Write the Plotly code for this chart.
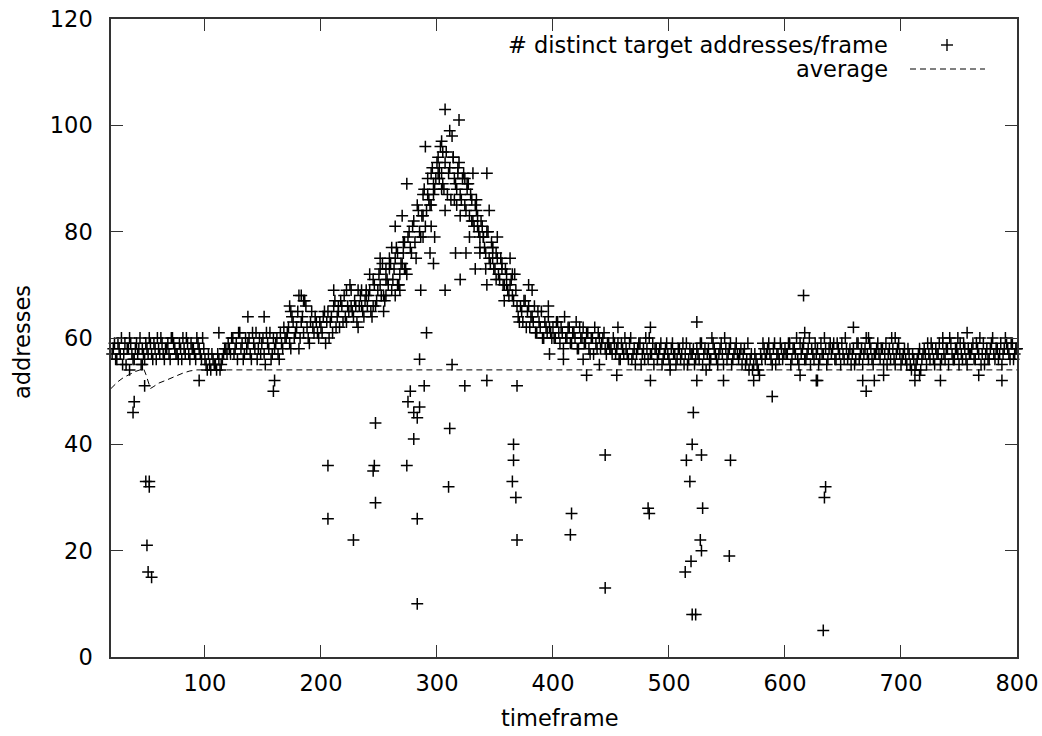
import plotly.graph_objects as go

# ---- main band: readings on even frames (x = 20, 22, ..., 800) ----
band_frame = list(range(20, 801, 2))
band_count = [
    # 20-48
    57, 59, 56, 58, 60, 57, 55, 58, 59, 56, 58, 57, 60, 58, 56,
    # 50-98
    58, 60, 57, 59, 56, 58, 60, 57, 58, 59, 56, 60, 58, 57, 59, 56, 58, 60, 57, 59, 58, 56, 59, 57, 60,
    # 100-118
    56, 54, 55, 57, 55, 54, 56, 55, 57, 58,
    # 120-168
    59, 57, 60, 58, 56, 61, 59, 57, 58, 60, 56, 59, 61, 58, 57, 60, 55, 59, 61, 57, 58, 60, 56, 59, 62,
    # 170-198
    60, 62, 58, 63, 61, 65, 60, 64, 67, 62, 59, 65, 61, 63, 60,
    # 200-238
    62, 64, 59, 65, 63, 61, 67, 64, 62, 66, 68, 63, 65, 69, 64, 66, 62, 68, 65, 67,
    # 240-268
    66, 69, 64, 70, 67, 72, 68, 65, 73, 70, 74, 71, 68, 76, 72,
    # 270-298
    74, 78, 72, 80, 76, 82, 75, 84, 79, 87, 81, 90, 85, 92, 88,
    # 300-338
    93, 90, 97, 88, 95, 91, 86, 94, 89, 92, 87, 90, 85, 88, 83, 86, 81, 84, 80, 82,
    # 340-368
    79, 76, 80, 74, 77, 73, 75, 71, 74, 70, 72, 68, 71, 67, 69,
    # 370-398
    64, 66, 63, 67, 65, 62, 64, 66, 61, 63, 65, 60, 62, 64, 61,
    # 400-448
    62, 60, 63, 59, 61, 64, 60, 62, 59, 61, 63, 58, 60, 62, 59, 61, 57, 60, 62, 58, 60, 59, 61, 57, 59,
    # 450-518
    58, 60, 57, 59, 56, 58, 60, 57, 59, 56, 58, 57, 59, 55, 58, 60, 56, 57, 59, 58, 56, 58, 55, 57, 59,
    56, 58, 57, 55, 58, 56, 59, 57, 55, 58,
    # 520-558
    57, 55, 58, 56, 59, 57, 54, 58, 56, 59, 57, 55, 58, 57, 60, 56, 58, 55, 57, 59,
    # 560-598
    56, 58, 57, 55, 59, 56, 54, 57, 55, 53, 56, 58, 57, 59, 56, 58, 55, 57, 59, 56,
    # 600-638
    58, 57, 59, 56, 58, 60, 55, 57, 59, 56, 58, 55, 57, 59, 58, 56, 57, 60, 55, 58,
    # 640-678
    57, 59, 56, 58, 55, 57, 60, 56, 58, 57, 55, 59, 56, 58, 57, 60, 56, 58, 55, 57,
    # 680-718
    59, 56, 58, 57, 55, 58, 60, 56, 57, 59, 55, 57, 56, 58, 55, 57, 54, 56, 58, 56,
    # 720-758
    58, 55, 57, 59, 56, 58, 57, 55, 59, 56, 58, 60, 57, 56, 58, 55, 57, 59, 56, 58,
    # 760-800
    57, 59, 56, 58, 60, 57, 55, 58, 56, 59, 57, 58, 56, 59, 57, 60, 58, 56, 59, 57, 58,
]

# ---- main band: readings on odd frames (x = 21, 23, ..., 799) ----
odd_frame = list(range(21, 800, 2))
odd_count = [
    # 21-49
    58, 56, 59, 57, 55, 59, 58, 60, 57, 56, 59, 58, 55, 57, 59,
    # 51-99
    57, 59, 56, 58, 60, 57, 59, 56, 58, 57, 60, 59, 57, 56, 58, 60, 57, 59, 56, 58, 57, 60, 58, 56, 58,
    # 101-119
    55, 57, 54, 56, 55, 57, 54, 56, 58, 57,
    # 121-169
    58, 60, 57, 59, 61, 58, 56, 60, 59, 57, 61, 58, 56, 60, 59, 57, 61, 58, 56, 60, 59, 57, 61, 58, 60,
    # 171-199
    61, 59, 64, 60, 62, 58, 63, 61, 66, 60, 63, 62, 64, 61, 63,
    # 201-239
    61, 65, 63, 60, 64, 66, 62, 65, 67, 63, 64, 66, 70, 65, 67, 63, 66, 69, 64, 68,
    # 241-269
    68, 65, 71, 66, 69, 70, 74, 67, 71, 75, 69, 73, 77, 70, 74,
    # 271-299
    76, 73, 79, 77, 81, 78, 85, 80, 83, 88, 84, 86, 91, 87, 90,
    # 301-339
    91, 96, 89, 93, 87, 92, 98, 90, 88, 93, 86, 91, 84, 89, 87, 82, 85, 83, 79, 81,
    # 341-369
    77, 80, 75, 78, 73, 76, 72, 75, 70, 73, 69, 70, 68, 72, 66,
    # 371-399
    63, 65, 67, 62, 66, 64, 63, 61, 65, 62, 60, 63, 61, 62, 60,
    # 401-449
    60, 63, 61, 62, 58, 60, 62, 59, 61, 60, 58, 62, 60, 59, 61, 58, 60, 57, 59, 61, 58, 60, 58, 59, 58,
    # 451-519
    57, 59, 58, 56, 59, 57, 58, 56, 60, 57, 55, 58, 59, 57, 56, 58, 60, 57, 55, 58, 57, 59, 56, 58, 57,
    55, 59, 57, 56, 58, 57, 55, 59, 56, 57,
    # 521-559
    58, 56, 57, 59, 55, 58, 57, 56, 60, 58, 56, 57, 59, 55, 58, 57, 59, 56, 58, 57,
    # 561-599
    57, 55, 58, 56, 54, 57, 55, 56, 54, 57, 59, 56, 58, 57, 55, 59, 57, 56, 58, 57,
    # 601-639
    57, 59, 55, 58, 57, 56, 59, 58, 56, 57, 60, 58, 56, 57, 55, 59, 57, 58, 56, 59,
    # 641-679
    58, 56, 59, 57, 59, 56, 58, 57, 55, 58, 56, 59, 57, 55, 58, 57, 59, 56, 57, 58,
    # 681-719
    57, 58, 55, 59, 57, 56, 58, 55, 58, 57, 56, 58, 55, 57, 54, 56, 55, 57, 54, 57,
    # 721-759
    57, 59, 56, 58, 55, 57, 59, 56, 57, 58, 55, 59, 56, 58, 57, 59, 56, 58, 55, 57,
    # 761-799
    58, 56, 59, 57, 55, 59, 57, 56, 58, 60, 56, 58, 57, 55, 58, 59, 57, 59, 56, 58,
]

# ---- extra readings around the peak (spread of values) ----
peak_frame = [307, 319, 311, 290, 305, 314, 301, 302, 304, 318, 324, 326, 331, 343, 274, 297,
              304, 292, 315, 334, 295, 307, 317, 345, 270, 288, 320, 264, 295, 330, 335, 288,
              298, 328, 340, 352, 271, 261, 337, 348, 294, 316, 325, 337, 251, 264, 348, 363,
              297, 251, 259, 272, 333, 342, 356, 242, 256, 365, 320, 351, 267, 211, 222, 232,
              239, 256, 268, 286, 307, 343, 360, 379, 181, 185, 382, 396, 358, 173, 226, 235,
              245, 291, 137, 151, 112, 174, 183, 215, 254, 266]
peak_count = [103, 101, 99, 96, 95, 94, 94, 92, 91, 91, 90, 89, 91, 91, 89, 89,
              88, 87, 86, 86, 85, 84, 85, 84, 83, 83, 83, 81, 81, 82, 81, 79,
              79, 79, 79, 79, 78, 77, 77, 77, 76, 76, 76, 76, 75, 75, 75, 75,
              74, 73, 73, 73, 73, 73, 73, 72, 71, 72, 71, 71, 70, 69, 69, 69,
              69, 68, 69, 69, 69, 70, 70, 70, 68, 67, 69, 66, 67, 66, 66, 66,
              66, 61, 64, 64, 61, 65, 68, 66, 68, 70]

# ---- isolated readings away from the band ----
outlier_frame = [48, 39, 38, 49, 52, 52, 50, 51, 54, 95, 160, 159, 247, 206, 246, 245,
                 274, 277, 275, 280, 285, 283, 280, 283, 283, 247, 206, 228, 311, 310, 324, 343,
                 369, 366, 366, 365, 368, 369, 445, 416, 415, 445, 482, 483, 484, 524,
                 521, 520, 515, 528, 553, 518, 529, 527, 528, 519, 514, 552, 520, 523,
                 547, 573, 589, 628, 635, 634, 633, 616, 617, 659, 672, 695, 757, 736,
                 749, 613, 627, 667, 670, 677, 685, 712, 734, 767, 787, 716, 456, 484,
                 524, 429, 455, 397, 409, 426, 440, 501, 535, 313, 285, 289, 35, 46]
outlier_count = [51, 48, 46, 33, 33, 32, 21, 16, 15, 52, 52, 50, 44, 36, 36, 35,
                 36, 50, 48, 46, 47, 45, 41, 26, 10, 29, 26, 22, 43, 32, 51, 52,
                 51, 40, 37, 33, 30, 22, 38, 27, 23, 13, 28, 27, 52, 52,
                 46, 40, 37, 38, 37, 33, 28, 22, 20, 18, 16, 19, 8, 8,
                 52, 52, 49, 52, 32, 30, 5, 68, 61, 62, 60, 60, 61, 60,
                 60, 53, 52, 52, 50, 52, 53, 52, 52, 53, 52, 53, 62, 62,
                 63, 53, 53, 57, 56, 56, 55, 54, 55, 55, 56, 51, 54, 55]

# ---- running average curve ----
avg_frame = [19, 25, 30, 35, 40, 44, 47, 49, 51, 53, 56, 60, 67, 75, 81, 87, 93, 120, 800]
avg_value = [50.5, 51.8, 52.6, 53.2, 53.7, 54.0, 54.3, 53.2, 51.6, 50.5, 50.9, 51.5, 52.1,
             52.9, 53.4, 53.8, 54.0, 54.0, 54.0]

x_ticks = [100, 200, 300, 400, 500, 600, 700, 800]
y_ticks = [0, 20, 40, 60, 80, 100, 120]

FONT = "DejaVu Sans, Liberation Sans, Arial, sans-serif"
FS = 22.5
AXC = "#333333"

fig = go.Figure()
fig.add_trace(go.Scatter(
    x=band_frame + odd_frame + peak_frame + outlier_frame,
    y=band_count + odd_count + peak_count + outlier_count,
    mode="markers",
    name="# distinct target addresses/frame",
    marker=dict(symbol="cross-thin", size=8.5, color="black",
                line=dict(width=1.5, color="black")),
    cliponaxis=False,
    showlegend=False,
))
fig.add_trace(go.Scatter(
    x=avg_frame, y=avg_value, mode="lines", name="average",
    line=dict(color="black", width=1, dash="6px,4px"),
    showlegend=False,
))

# page-pixel geometry of the plot box (body margin removed below)
W, H = 1042, 736
L, R, T, B = 111, 1017, 19, 657


def px(xp):
    return (xp - L) / (R - L)


def py(yp):
    return (B - yp) / (B - T)


fig.update_layout(
    width=W, height=H,
    margin=dict(l=L, r=W - R, t=T, b=H - B, autoexpand=False),
    paper_bgcolor="white", plot_bgcolor="white",
    font=dict(family=FONT, size=FS, color="black"),
    xaxis=dict(range=[19, 800], tickvals=x_ticks, ticks="inside", ticklen=12,
               tickcolor=AXC, tickwidth=1, showline=True, linecolor=AXC, linewidth=1.5,
               mirror="ticks", showgrid=False, zeroline=False, ticklabelstandoff=5,
               automargin=False, ticklabeloverflow="allow"),
    yaxis=dict(range=[0, 120], tickvals=y_ticks, ticks="inside", ticklen=12,
               tickcolor=AXC, tickwidth=1, showline=True, linecolor=AXC, linewidth=1.5,
               mirror="ticks", showgrid=False, zeroline=False, ticklabelstandoff=12,
               automargin=False, ticklabeloverflow="allow"),
    annotations=[
        dict(text="addresses", xref="paper", yref="paper", x=px(22), y=py(342),
             textangle=-90, showarrow=False, xanchor="center", yanchor="middle",
             font=dict(size=FS)),
        dict(text="timeframe", xref="paper", yref="paper", x=px(560), y=py(718),
             showarrow=False, xanchor="center", yanchor="middle", font=dict(size=FS)),
        dict(text="# distinct target addresses/frame", xref="paper", yref="paper",
             x=px(890), y=py(45), showarrow=False, xanchor="right", yanchor="middle",
             font=dict(size=FS)),
        dict(text="average", xref="paper", yref="paper", x=px(890), y=py(69),
             showarrow=False, xanchor="right", yanchor="middle", font=dict(size=FS)),
    ],
    shapes=[
        dict(type="line", xref="paper", yref="paper", x0=px(941), x1=px(953),
             y0=py(45), y1=py(45), line=dict(color="black", width=1.4)),
        dict(type="line", xref="paper", yref="paper", x0=px(947), x1=px(947),
             y0=py(39), y1=py(51), line=dict(color="black", width=1.4)),
        dict(type="line", xref="paper", yref="paper", x0=px(910), x1=px(985),
             y0=py(69), y1=py(69), line=dict(color="black", width=1, dash="6px,4px")),
    ],
)

fig.write_html("out.html", config={"displayModeBar": False},
               post_script="document.body.style.margin='0px';")
